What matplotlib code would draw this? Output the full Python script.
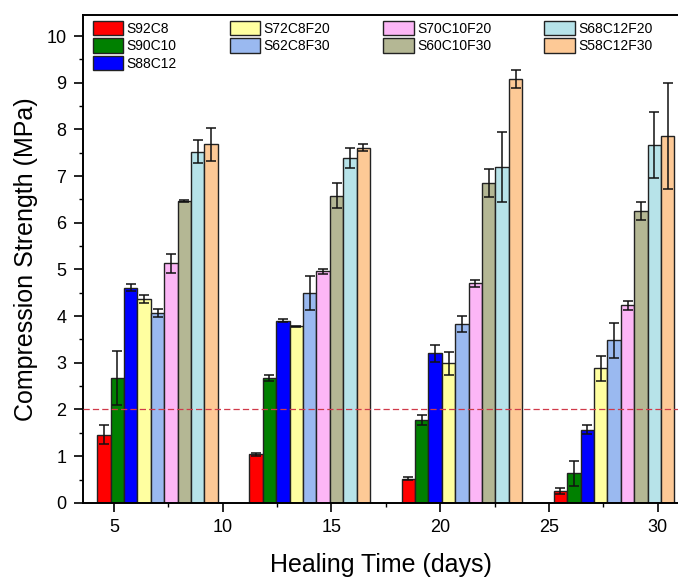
import numpy as np
import matplotlib.pyplot as plt
from matplotlib.ticker import MultipleLocator

plt.rcParams['font.family'] = ['Liberation Sans', 'DejaVu Sans']

# --- Données ---
jours = [7, 14, 21, 28]
noms = ['S92C8', 'S90C10', 'S88C12', 'S72C8F20', 'S62C8F30',
        'S70C10F20', 'S60C10F30', 'S68C12F20', 'S58C12F30']
couleurs = ['#ff0000', '#008000', '#0000ff', '#ffffa0', '#9ab9f0',
            '#fcb6f6', '#b4b794', '#b7e3e9', '#fdc996']

S92C8 = [1.46, 1.04, 0.52, 0.25]
S90C10 = [2.68, 2.67, 1.78, 0.63]
S88C12 = [4.61, 3.90, 3.20, 1.57]
S72C8F20 = [4.37, 3.78, 2.99, 2.88]
S62C8F30 = [4.07, 4.50, 3.83, 3.48]
S70C10F20 = [5.13, 4.96, 4.70, 4.23]
S60C10F30 = [6.46, 6.58, 6.85, 6.25]
S68C12F20 = [7.52, 7.39, 7.20, 7.67]
S58C12F30 = [7.68, 7.61, 9.08, 7.86]

err_S92C8 = [0.20, 0.03, 0.03, 0.06]
err_S90C10 = [0.58, 0.07, 0.11, 0.26]
err_S88C12 = [0.08, 0.03, 0.18, 0.09]
err_S72C8F20 = [0.08, 0.01, 0.25, 0.26]
err_S62C8F30 = [0.09, 0.36, 0.17, 0.38]
err_S70C10F20 = [0.20, 0.05, 0.07, 0.10]
err_S60C10F30 = [0.02, 0.27, 0.30, 0.19]
err_S68C12F20 = [0.25, 0.22, 0.75, 0.71]
err_S58C12F30 = [0.36, 0.07, 0.19, 1.13]

valeurs = [S92C8, S90C10, S88C12, S72C8F20, S62C8F30,
           S70C10F20, S60C10F30, S68C12F20, S58C12F30]
erreurs = [err_S92C8, err_S90C10, err_S88C12, err_S72C8F20, err_S62C8F30,
           err_S70C10F20, err_S60C10F30, err_S68C12F20, err_S58C12F30]

# --- Figure ---
fig = plt.figure(figsize=(6.78, 5.78), dpi=100)
ax = fig.add_axes([0.122, 0.13, 0.88, 0.844])

largeur = 0.617
x = np.array(jours, dtype=float)
for i, (nom, c, v, e) in enumerate(zip(noms, couleurs, valeurs, erreurs)):
    pos = x + (i - 4) * largeur
    ax.bar(pos, v, width=largeur, color=c, edgecolor='#222222', linewidth=1,
           label=nom, zorder=2)
    ax.errorbar(pos, v, yerr=e, fmt='none', ecolor='#111111', elinewidth=1.1,
                capsize=3.4, capthick=1.1, zorder=3)

# Ligne de référence à 2 MPa
ax.axhline(2, color='#d03a4a', lw=0.9, linestyle=(0, (5, 2.5)), zorder=4)

ax.set_xlim(3.56, 31.0)
ax.set_ylim(0, 10.45)
ax.xaxis.set_major_locator(MultipleLocator(5))
ax.xaxis.set_minor_locator(MultipleLocator(2.5))
ax.yaxis.set_major_locator(MultipleLocator(1))
ax.yaxis.set_minor_locator(MultipleLocator(0.5))
ax.tick_params(which='major', direction='out', length=6.3, width=1.2,
               labelsize=13, pad=5.5)
ax.tick_params(which='minor', direction='out', length=3, width=1.0)
ax.tick_params(top=False, right=False, which='both')
for s in ax.spines.values():
    s.set_linewidth(1.4)
ax.spines['right'].set_visible(False)

ax.set_xlabel('Healing Time (days)', fontsize=18, labelpad=12)
ax.set_ylabel('Compression Strength (MPa)', fontsize=18, labelpad=6)

# Légende 3 lignes x 4 colonnes
h, l = ax.get_legend_handles_labels()
vide = plt.Rectangle((0, 0), 0, 0, alpha=0)
ordre = [0, 1, 2, 3, 4, None, 5, 6, None, 7, 8, None]
hh = [h[k] if k is not None else vide for k in ordre]
ll = [l[k] if k is not None else '' for k in ordre]
ax.legend(hh, ll, ncol=4, loc='upper left', bbox_to_anchor=(0.004, 1.004),
          frameon=False, fontsize=10, handlelength=2.2, handleheight=1.2,
          handletextpad=0.25, labelspacing=0.2, columnspacing=3.8,
          borderaxespad=0.15)

plt.savefig('out.png', dpi=100)
